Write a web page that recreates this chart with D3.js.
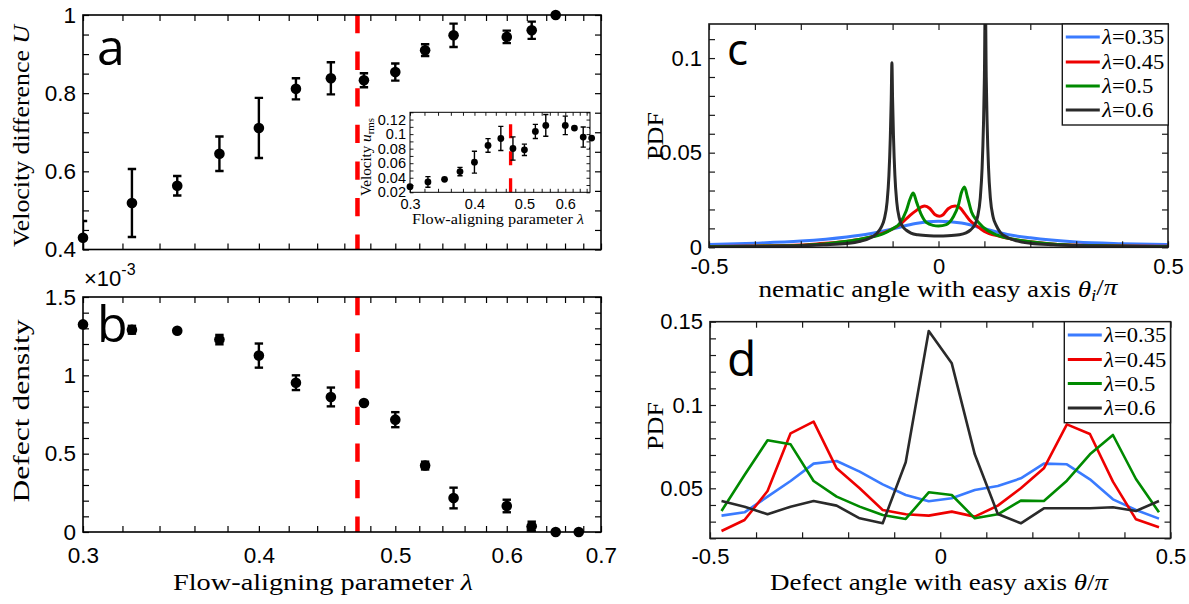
<!DOCTYPE html>
<html><head><meta charset="utf-8">
<script src="https://cdn.jsdelivr.net/npm/d3@7"></script>
<style>
body{margin:0;background:#fff;}
svg{display:block;}
.num text{font-family:"Liberation Sans",Arial,sans-serif;fill:#000;}
.lab{font-family:"Liberation Serif","Times New Roman",serif;fill:#000;}
.tag{font-family:"Open Sans","DejaVu Sans",sans-serif;fill:#000;}
</style></head><body>
<svg id="fig" width="1189" height="604"></svg>
<script>
// ---------- data ----------
// (a) velocity difference U vs flow-aligning parameter
const lambdaU      = [0.3, 0.325, 0.35, 0.375, 0.4, 0.425, 0.45, 0.475, 0.5, 0.525, 0.55, 0.6, 0.625, 0.65];
const velDiff      = [0.430, 0.519, 0.563, 0.645, 0.711, 0.811, 0.838, 0.833, 0.854, 0.910, 0.948, 0.944, 0.961, 1.000];
const velDiffErr   = [0.043, 0.087, 0.025, 0.044, 0.077, 0.027, 0.041, 0.018, 0.022, 0.015, 0.030, 0.016, 0.022, 0];

// (a, inset) rms velocity
const lambdaRms    = [0.3, 0.325, 0.35, 0.375, 0.4, 0.425, 0.45, 0.475, 0.5, 0.525, 0.55, 0.6, 0.625, 0.65, 0.675];
const uRms         = [0.0278, 0.0343, 0.0379, 0.0485, 0.0614, 0.0844, 0.0940, 0.0802, 0.0784, 0.1037, 0.1120, 0.1120, 0.1083, 0.0959, 0.0945];
const uRmsErr      = [0, 0.0073, 0, 0.0058, 0.0150, 0.0094, 0.0166, 0.0160, 0.0078, 0.0097, 0.0150, 0.0127, 0.0020, 0.0138, 0.0140];

// (b) defect density (x 1e-3)
const lambdaDef    = [0.3, 0.325, 0.35, 0.375, 0.4, 0.425, 0.45, 0.475, 0.5, 0.525, 0.55, 0.6, 0.625, 0.65, 0.675];
const defectDens   = [1.325, 1.291, 1.285, 1.228, 1.126, 0.953, 0.862, 0.823, 0.717, 0.424, 0.217, 0.166, 0.036, 0, 0];
const defectErr    = [0, 0.025, 0, 0.030, 0.077, 0.047, 0.060, 0, 0.048, 0.025, 0.066, 0.040, 0.030, 0, 0];

const lambdaCritical = 0.47;

// (c) PDF of nematic angle
const nemAngle035 = [-0.5, -0.4, -0.3, -0.2, -0.15, -0.1, -0.05, 0, 0.05, 0.1, 0.15, 0.2, 0.3, 0.4, 0.5];
const nemPdf035   = [0.0015, 0.0022, 0.0033, 0.0055, 0.0072, 0.0097, 0.0126, 0.0137, 0.0128, 0.0098, 0.0068, 0.0050, 0.0028, 0.0019, 0.0014];
const nemAngle045 = [-0.5, -0.4, -0.3, -0.265, -0.19, -0.135, -0.106, -0.084, -0.062, -0.048, -0.037, -0.03, -0.019, -0.008, 0.002, 0.01, 0.021, 0.036, 0.046, 0.057, 0.068, 0.083, 0.1, 0.133, 0.2, 0.26, 0.35, 0.5];
const nemPdf045   = [0.0004, 0.0007, 0.0012, 0.0018, 0.0035, 0.0063, 0.0090, 0.0120, 0.0169, 0.0195, 0.0213, 0.0218, 0.0205, 0.0173, 0.0164, 0.0172, 0.0204, 0.0218, 0.0210, 0.0178, 0.0143, 0.0113, 0.0084, 0.0058, 0.0029, 0.0015, 0.0009, 0.0005];
const nemAngle05  = [-0.5, -0.4, -0.3, -0.23, -0.16, -0.12, -0.1, -0.085, -0.07, -0.062, -0.055, -0.048, -0.037, -0.026, -0.012, 0, 0.017, 0.032, 0.043, 0.05, 0.0565, 0.063, 0.072, 0.083, 0.097, 0.12, 0.15, 0.2, 0.26, 0.35, 0.5];
const nemPdf05    = [0.0003, 0.0006, 0.0010, 0.0023, 0.0048, 0.0072, 0.0098, 0.0125, 0.0195, 0.0255, 0.0287, 0.0240, 0.0170, 0.0130, 0.0116, 0.0113, 0.0120, 0.0160, 0.0220, 0.0290, 0.0319, 0.0266, 0.0187, 0.0143, 0.0107, 0.0072, 0.0049, 0.0029, 0.0015, 0.0008, 0.0004];
const nemAngle06  = [-0.5, -0.4, -0.3, -0.25, -0.2, -0.17, -0.15, -0.135, -0.125, -0.118, -0.112, -0.108, -0.105, -0.103, -0.1015, -0.1, -0.098, -0.095, -0.091, -0.085, -0.078, -0.07, -0.06, -0.045, -0.02, 0, 0.02, 0.045, 0.06, 0.07, 0.078, 0.085, 0.091, 0.095, 0.098, 0.1, 0.102, 0.104, 0.106, 0.109, 0.113, 0.119, 0.126, 0.135, 0.15, 0.17, 0.2, 0.25, 0.3, 0.4, 0.5];
const nemPdf06    = [0.0002, 0.0004, 0.0008, 0.0013, 0.0020, 0.0032, 0.0048, 0.0072, 0.0105, 0.0150, 0.0240, 0.0380, 0.0580, 0.0780, 0.0975, 0.0780, 0.0580, 0.0380, 0.0240, 0.0150, 0.0110, 0.0090, 0.0075, 0.0066, 0.0061, 0.0060, 0.0061, 0.0066, 0.0076, 0.0092, 0.0115, 0.0160, 0.0260, 0.0420, 0.0650, 0.0900, 0.1350, 0.0900, 0.0650, 0.0420, 0.0260, 0.0160, 0.0115, 0.0078, 0.0052, 0.0034, 0.0021, 0.0013, 0.0009, 0.0005, 0.0003];

// (d) PDF of defect angle, 20 bins
const defAngle   = [-0.475, -0.425, -0.375, -0.325, -0.275, -0.225, -0.175, -0.125, -0.075, -0.025, 0.025, 0.075, 0.125, 0.175, 0.225, 0.275, 0.325, 0.375, 0.425, 0.475];
const defPdf035  = [0.0336, 0.0356, 0.0450, 0.0544, 0.0648, 0.0664, 0.0600, 0.0524, 0.0460, 0.0422, 0.0440, 0.0490, 0.0514, 0.0560, 0.0648, 0.0644, 0.0554, 0.0434, 0.0370, 0.0318];
const defPdf045  = [0.0244, 0.0310, 0.0484, 0.0830, 0.0900, 0.0620, 0.0500, 0.0370, 0.0344, 0.0336, 0.0360, 0.0330, 0.0396, 0.0500, 0.0620, 0.0884, 0.0826, 0.0540, 0.0314, 0.0266];
const defPdf05   = [0.0364, 0.0580, 0.0788, 0.0764, 0.0544, 0.0450, 0.0390, 0.0340, 0.0316, 0.0476, 0.0460, 0.0320, 0.0344, 0.0426, 0.0424, 0.0546, 0.0704, 0.0820, 0.0556, 0.0356];
const defPdf06   = [0.0424, 0.0390, 0.0344, 0.0390, 0.0424, 0.0396, 0.0320, 0.0290, 0.0656, 0.1444, 0.1250, 0.0704, 0.0346, 0.0290, 0.0380, 0.0380, 0.0380, 0.0386, 0.0364, 0.0424];

const seriesNames  = ["\u03bb=0.35", "\u03bb=0.45", "\u03bb=0.5", "\u03bb=0.6"];
const seriesColors = ["#3a7bff", "#ee0000", "#008a00", "#2a2a2a"];

// tick values
const lambdaTicks   = d3.range(15, 36).map(i => i * 0.02);   // 0.30 ... 0.70
const lambdaLabels  = [0.3, 0.4, 0.5, 0.6, 0.7];
const uTicks        = d3.range(8, 21).map(i => i * 0.05);
const uLabels       = [0.4, 0.6, 0.8, 1];
const densTicks     = d3.range(0, 16).map(i => i * 0.1);
const densLabels    = [0, 0.5, 1, 1.5];
const insetXTicks   = d3.range(15, 34).map(i => i * 0.02);
const insetXLabels  = [0.3, 0.4, 0.5, 0.6];
const insetYTicks   = d3.range(2, 14).map(i => i * 0.01);
const insetYLabels  = [0.02, 0.04, 0.06, 0.08, 0.1, 0.12];
const angleTicks    = d3.range(-5, 6).map(i => i * 0.1);
const angleLabels   = [-0.5, 0, 0.5];
const pdfCTicks     = d3.range(0, 12).map(i => i * 0.01);
const pdfCLabels    = [0, 0.05, 0.1];
const pdfDTicks     = d3.range(2, 16).map(i => i * 0.01);
const pdfDLabels    = [0.05, 0.1, 0.15];

// ---------- helpers ----------
const svg = d3.select("#fig");
const near = (v, list) => list.some(l => Math.abs(l - v) < 1e-9);
const fmt = v => { const s = d3.format("~g")(+v.toFixed(6)); return s.replace("\u2212", "-"); };

function boxAxes(g, x, y, o) {
  const [xa, xb] = x.range(), [yb, ya] = y.range();
  const tl = o.tick || 6;
  const tk = sel => { sel.select(".domain").remove(); sel.selectAll(".tick line").attr("stroke", o.color || "#000").attr("stroke-width", o.tw || 1.2); };
  g.append("g").attr("class", "num").attr("transform", `translate(0,${yb})`)
    .call(d3.axisBottom(x).tickValues(o.xt).tickSize(-tl).tickPadding(o.xpad || 14)
      .tickFormat(v => o.xl && near(v, o.xl) ? fmt(v) : ""))
    .call(tk).selectAll("text").attr("font-size", o.fs).attr("fill", "#000");
  g.append("g").attr("transform", `translate(0,${ya})`)
    .call(d3.axisTop(x).tickValues(o.xt).tickSize(-tl).tickFormat("")).call(tk);
  g.append("g").attr("class", "num").attr("transform", `translate(${xa},0)`)
    .call(d3.axisLeft(y).tickValues(o.yt).tickSize(-tl).tickPadding(o.ypad || 7)
      .tickFormat(v => near(v, o.yl) ? fmt(v) : ""))
    .call(tk).selectAll("text").attr("font-size", o.fs).attr("fill", "#000");
  g.append("g").attr("transform", `translate(${xb},0)`)
    .call(d3.axisRight(y).tickValues(o.yt).tickSize(-tl).tickFormat("")).call(tk);
  g.append("rect").attr("x", xa).attr("y", ya).attr("width", xb - xa).attr("height", yb - ya)
    .attr("fill", "none").attr("stroke", o.color || "#000").attr("stroke-width", o.bw || 1.6);
}

// widen serif text along its baseline to the span the wider math font takes
function spread(sel, len) {
  sel.attr("textLength", len).attr("lengthAdjust", "spacingAndGlyphs");
  return sel;
}

function clip(id, x, y) {
  svg.append("clipPath").attr("id", id).append("rect")
    .attr("x", x.range()[0]).attr("y", y.range()[1])
    .attr("width", x.range()[1] - x.range()[0]).attr("height", y.range()[0] - y.range()[1]);
}

function errorDots(g, x, y, xs, vs, es, r, cap, sw, clipId) {
  const eg = g.append("g").attr("clip-path", `url(#${clipId})`).attr("stroke", "#000").attr("stroke-width", sw);
  xs.forEach((xv, i) => {
    if (!es[i]) return;
    const cx = x(xv), t = y(vs[i] + es[i]), b = y(vs[i] - es[i]);
    eg.append("line").attr("x1", cx).attr("x2", cx).attr("y1", t).attr("y2", b);
    eg.append("line").attr("x1", cx - cap).attr("x2", cx + cap).attr("y1", t).attr("y2", t);
    eg.append("line").attr("x1", cx - cap).attr("x2", cx + cap).attr("y1", b).attr("y2", b);
  });
  g.append("g").selectAll("circle").data(xs).join("circle")
    .attr("cx", d => x(d)).attr("cy", (d, i) => y(vs[i])).attr("r", r).attr("fill", "#000");
}

function addParts(t, parts) {
  parts.forEach(p => {
    const s = t.append("tspan").text(p.t);
    if (p.i) s.attr("font-style", "italic");
    if (p.dy) s.attr("dy", p.dy);
    if (p.fs) s.attr("font-size", p.fs);
  });
}
function vLabel(x, yc, len, parts, fs) {
  const t = svg.append("text").attr("class", "lab").attr("font-size", fs)
    .attr("text-anchor", "middle").attr("transform", `translate(${x},${yc}) rotate(-90)`);
  addParts(t, parts);
  return spread(t, len);
}
function hLabel(xc, y, len, parts, fs) {
  const t = svg.append("text").attr("class", "lab").attr("font-size", fs)
    .attr("text-anchor", "middle").attr("x", xc).attr("y", y);
  addParts(t, parts);
  return spread(t, len);
}

// ---------- (a) ----------
const xA = d3.scaleLog().domain([0.3, 0.7]).range([83, 601]);
const yA = d3.scaleLinear().domain([0.4, 1]).range([249.5, 15]);
const gA = svg.append("g");
clip("clipA", xA, yA);
gA.append("line").attr("x1", xA(lambdaCritical)).attr("x2", xA(lambdaCritical))
  .attr("y1", yA.range()[1]).attr("y2", yA.range()[0])
  .attr("stroke", "#ff0000").attr("stroke-width", 4.5).attr("stroke-dasharray", "18.3,18.3");
boxAxes(gA, xA, yA, { xt: lambdaTicks, xl: null, yt: uTicks, yl: uLabels, fs: 22.5 });
errorDots(gA, xA, yA, lambdaU, velDiff, velDiffErr, 5.3, 4.2, 2.4, "clipA");
svg.append("text").attr("class", "tag").attr("x", 97).attr("y", 65).attr("font-size", 50).text("a");

// inset
const xI = d3.scaleLog().domain([0.3, 0.67]).range([410, 590]);
const yI = d3.scaleLinear().domain([0.02, 0.13]).range([192.3, 112.3]);
const gI = svg.append("g");
gI.append("rect").attr("x", 410).attr("y", 112.3).attr("width", 180).attr("height", 80).attr("fill", "#fff");
clip("clipI", xI, yI);
gI.append("line").attr("x1", xI(lambdaCritical)).attr("x2", xI(lambdaCritical))
  .attr("y1", yI.range()[0]).attr("y2", yI.range()[1])
  .attr("stroke", "#ff0000").attr("stroke-width", 3.3).attr("stroke-dasharray", "14,13");
boxAxes(gI, xI, yI, { xt: insetXTicks, xl: insetXLabels, yt: insetYTicks, yl: insetYLabels, fs: 14.5, tick: 3.5, tw: 0.9, bw: 1, xpad: 6, ypad: 4 });
errorDots(gI, xI, yI, lambdaRms, uRms, uRmsErr, 3.4, 2.6, 1.4, "clipI");
vLabel(371, 157, 78, [{ t: "Velocity " }, { t: "u", i: 1 }, { t: "rms", dy: "0.3em", fs: "0.72em" }], 14);
hLabel(498, 224, 172, [{ t: "Flow-aligning parameter " }, { t: "\u03bb", i: 1 }], 14);

// ---------- (b) ----------
const xB = d3.scaleLog().domain([0.3, 0.7]).range([83, 601]);
const yB = d3.scaleLinear().domain([0, 1.5]).range([532, 297]);
const gB = svg.append("g");
clip("clipB", xB, yB);
gB.append("line").attr("x1", xB(lambdaCritical)).attr("x2", xB(lambdaCritical))
  .attr("y1", yB.range()[1]).attr("y2", yB.range()[0])
  .attr("stroke", "#ff0000").attr("stroke-width", 4.5).attr("stroke-dasharray", "18.3,18.3");
boxAxes(gB, xB, yB, { xt: lambdaTicks, xl: lambdaLabels, yt: densTicks, yl: densLabels, fs: 22.5, xpad: 15 });
errorDots(gB, xB, yB, lambdaDef, defectDens, defectErr, 5.3, 4.2, 2.4, "clipB");
svg.append("text").attr("class", "tag").attr("x", 97).attr("y", 342).attr("font-size", 50).text("b");
const sci = svg.append("text").attr("font-family", "Liberation Sans, Arial, sans-serif").attr("font-size", 22).attr("x", 84).attr("y", 286);
sci.append("tspan").text("\u00d710");
sci.append("tspan").attr("dy", -11).attr("font-size", 16).text("-3");

vLabel(29, 136, 222, [{ t: "Velocity difference " }, { t: "U", i: 1 }], 24);
vLabel(29, 411, 183, [{ t: "Defect density" }], 24);
hLabel(323, 590, 300, [{ t: "Flow-aligning parameter " }, { t: "\u03bb", i: 1 }], 24);

// ---------- (c) ----------
const xC = d3.scaleLinear().domain([-0.5, 0.5]).range([709, 1168]);
const yC = d3.scaleLinear().domain([0, 0.118]).range([247.3, 24]);
const gC = svg.append("g");
clip("clipC", xC, yC);
const cSeries = [[nemAngle035, nemPdf035], [nemAngle045, nemPdf045], [nemAngle05, nemPdf05], [nemAngle06, nemPdf06]];
const lineC = d3.line().x(d => xC(d[0])).y(d => yC(d[1])).curve(d3.curveMonotoneX);
const gCl = gC.append("g").attr("clip-path", "url(#clipC)");
cSeries.forEach((s, k) => {
  gCl.append("path").datum(s[0].map((a, i) => [a, s[1][i]])).attr("d", lineC)
    .attr("fill", "none").attr("stroke", seriesColors[k]).attr("stroke-width", 3).attr("stroke-linejoin", "round");
});
boxAxes(gC, xC, yC, { xt: angleTicks, xl: angleLabels, yt: pdfCTicks, yl: pdfCLabels, fs: 22, xpad: 11, color: "#1a1a1a" });
svg.append("text").attr("class", "tag").attr("x", 727).attr("y", 65).attr("font-size", 44).text("c");

// ---------- (d) ----------
const xD = d3.scaleLinear().domain([-0.5, 0.5]).range([710, 1170.5]);
const yD = d3.scaleLinear().domain([0.02, 0.15]).range([538.3, 321.7]);
const gD = svg.append("g");
const dSeries = [defPdf035, defPdf045, defPdf05, defPdf06];
const lineD = d3.line().x(d => xD(d[0])).y(d => yD(d[1]));
dSeries.forEach((s, k) => {
  gD.append("path").datum(defAngle.map((a, i) => [a, s[i]])).attr("d", lineD)
    .attr("fill", "none").attr("stroke", seriesColors[k]).attr("stroke-width", 2.6).attr("stroke-linejoin", "round");
});
boxAxes(gD, xD, yD, { xt: angleTicks, xl: angleLabels, yt: pdfDTicks, yl: pdfDLabels, fs: 22, xpad: 10, color: "#1a1a1a" });
svg.append("text").attr("class", "tag").attr("x", 727).attr("y", 376).attr("font-size", 48).text("d");

// legends
function legend(x0, y0, w, h, rows) {
  const g = svg.append("g");
  g.append("rect").attr("x", x0).attr("y", y0).attr("width", w).attr("height", h)
    .attr("fill", "#fff").attr("stroke", "#1a1a1a").attr("stroke-width", 1.4);
  seriesNames.forEach((n, k) => {
    const yy = rows[k];
    g.append("line").attr("x1", x0 + 3.5).attr("x2", x0 + 37.5).attr("y1", yy).attr("y2", yy)
      .attr("stroke", seriesColors[k]).attr("stroke-width", 3);
    const t = g.append("text").attr("class", "lab").attr("font-size", 20).attr("x", x0 + 40).attr("y", yy + 7);
    t.append("tspan").attr("font-style", "italic").text(n.slice(0, 1));
    t.append("tspan").text(n.slice(1));
    spread(t, n.length > 5 ? 62 : 51);
  });
}
legend(1062.3, 24, 106, 101, [37, 62, 86, 110]);
legend(1064.3, 321.7, 106.2, 101, [335, 359.5, 383.5, 408]);

vLabel(663, 136, 48, [{ t: "PDF" }], 24);
vLabel(663, 426, 48, [{ t: "PDF" }], 24);
hLabel(938, 297, 359, [{ t: "nematic angle with easy axis " }, { t: "\u03b8", i: 1 }, { t: "i", i: 1, dy: "0.25em", fs: "0.7em" }, { t: "/", dy: "-0.25em" }, { t: "\u03c0", i: 1 }], 23);
hLabel(939, 590, 338, [{ t: "Defect angle with easy axis " }, { t: "\u03b8", i: 1 }, { t: "/" }, { t: "\u03c0", i: 1 }], 23);
</script>
</body></html>
